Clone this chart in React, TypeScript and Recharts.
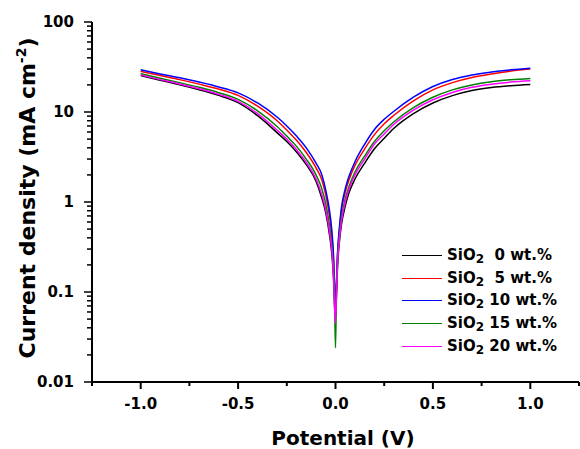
import { LineChart, Line, XAxis, YAxis, Legend } from 'recharts';

// Polarisation scans, |j| in mA cm^-2 against potential in V
const potential = [
  -1.0, -0.9, -0.8, -0.7, -0.6, -0.5, -0.4, -0.3, -0.25, -0.2, -0.15, -0.1, -0.07, -0.05, -0.03, -0.02, -0.01, -0.005,
  0,
  0.005, 0.01, 0.02, 0.03, 0.05, 0.07, 0.1, 0.15, 0.2, 0.25, 0.3, 0.4, 0.5, 0.6, 0.7, 0.8, 0.9, 1.0,
];

const sio2_0 = [
  25.4, 22.5, 20.1, 17.7, 15.3, 12.7, 9.1, 5.9, 4.7, 3.6, 2.6, 1.7, 1.1, 0.76, 0.42, 0.28, 0.14, 0.07,
  0.05,
  0.09, 0.18, 0.36, 0.55, 0.9, 1.28, 1.8, 2.7, 3.9, 5.1, 6.6, 9.6, 12.6, 15.2, 17.3, 18.7, 19.6, 20.2,
];
const sio2_5 = [
  28.3, 25.4, 22.9, 20.4, 18.0, 15.3, 11.6, 8.0, 6.3, 4.85, 3.55, 2.4, 1.75, 1.2, 0.68, 0.45, 0.22, 0.11,
  0.055,
  0.12, 0.24, 0.48, 0.78, 1.28, 1.78, 2.55, 3.9, 5.6, 7.4, 9.2, 13.3, 17.6, 21.2, 24.2, 26.5, 28.5, 30.0,
];
const sio2_10 = [
  29.5, 26.5, 24.0, 21.5, 19.0, 16.3, 12.6, 8.8, 7.0, 5.4, 4.0, 2.7, 2.0, 1.35, 0.78, 0.51, 0.25, 0.12,
  0.06,
  0.13, 0.26, 0.52, 0.85, 1.4, 1.95, 2.8, 4.4, 6.4, 8.3, 10.2, 14.6, 19.2, 23.0, 25.8, 27.8, 29.4, 30.7,
];
const sio2_15 = [
  26.6, 23.7, 21.2, 18.8, 16.4, 13.8, 10.3, 6.9, 5.4, 4.15, 3.0, 2.0, 1.4, 0.95, 0.53, 0.35, 0.17, 0.085,
  0.024,
  0.105, 0.21, 0.42, 0.65, 1.08, 1.5, 2.15, 3.25, 4.7, 6.2, 7.8, 11.2, 14.6, 17.6, 20.0, 21.7, 22.8, 23.6,
];
const sio2_20 = [
  25.8, 22.9, 20.5, 18.1, 15.7, 13.1, 9.6, 6.3, 5.0, 3.8, 2.75, 1.8, 1.2, 0.82, 0.46, 0.31, 0.15, 0.075,
  0.045,
  0.1, 0.2, 0.39, 0.6, 1.0, 1.4, 2.0, 3.0, 4.4, 5.7, 7.3, 10.5, 13.7, 16.5, 18.8, 20.4, 21.5, 22.2,
];

const wtPercent = ['0', '5', '10', '15', '20'];
const seriesKeys = ['s0', 's5', 's10', 's15', 's20'];
const seriesColors = ['#000000', '#ff0000', '#0000ff', '#008000', '#ff00ff'];

const xMajor = [-1.0, -0.5, 0, 0.5, 1.0];
const xMinor = [-1.25, -0.75, -0.25, 0.25, 0.75, 1.25];
const yMajor = [0.01, 0.1, 1, 10, 100];
const yMinorSteps = [2, 3, 4, 5, 6, 7, 8, 9];

const xTicks = [...xMajor, ...xMinor].sort((a, b) => a - b);
const yTicks: number[] = [];
yMajor.forEach((d, i) => {
  yTicks.push(d);
  if (i < yMajor.length - 1) yMinorSteps.forEach((m) => yTicks.push(d * m));
});

const data = potential.map((v, i) => ({
  v,
  s0: sio2_0[i],
  s5: sio2_5[i],
  s10: sio2_10[i],
  s15: sio2_15[i],
  s20: sio2_20[i],
}));

const FONT = "'DejaVu Sans', 'Liberation Sans', Arial, sans-serif";

const isMajorX = (v: number) => xMajor.some((m) => Math.abs(m - v) < 1e-9);
const isMajorY = (v: number) => yMajor.some((m) => Math.abs(m - v) / m < 1e-6);

function BottomTick({ x, y, payload }: any) {
  const major = isMajorX(payload.value);
  return (
    <g>
      <line x1={x} x2={x} y1={y} y2={y + (major ? 7 : 4)} stroke="#000" strokeWidth={2} />
      {major && (
        <text x={x} y={y + 27} textAnchor="middle" fontFamily={FONT} fontWeight={700} fontSize={15} fill="#000">
          {payload.value.toFixed(1)}
        </text>
      )}
    </g>
  );
}

function TopTick({ x, y, payload }: any) {
  return <line x1={x} x2={x} y1={y} y2={y + 3} stroke="#000" strokeWidth={1.5} key={payload.value} />;
}

function LeftTick({ x, y, payload }: any) {
  const major = isMajorY(payload.value);
  return (
    <g>
      <line x1={x - (major ? 8 : 5)} x2={x} y1={y} y2={y} stroke="#000" strokeWidth={1.5} />
      {major && (
        <text x={x - 18} y={y} dy="0.36em" textAnchor="end" fontFamily={FONT} fontWeight={700} fontSize={15} fill="#000">
          {String(payload.value)}
        </text>
      )}
    </g>
  );
}

function YTitle({ viewBox }: any) {
  const cx = 35;
  const cy = viewBox.y + 176;
  return (
    <text
      x={cx}
      y={cy}
      transform={`rotate(-90 ${cx} ${cy})`}
      textAnchor="middle"
      fontFamily={FONT}
      fontWeight={700}
      fontSize={22}
      fill="#000"
    >
      Current density (mA cm
      <tspan dy={-9} fontSize={14}>-2</tspan>
      <tspan dy={9}>)</tspan>
    </text>
  );
}

function XTitle({ viewBox }: any) {
  return (
    <text x={viewBox.x + 251} y={445} textAnchor="middle" fontFamily={FONT} fontWeight={700} fontSize={20} fill="#000">
      Potential (V)
    </text>
  );
}

function SeriesLegend({ payload }: any) {
  const items = [...(payload ?? [])].sort(
    (a: any, b: any) => seriesKeys.indexOf(a.dataKey) - seriesKeys.indexOf(b.dataKey)
  );
  return (
    <div style={{ fontFamily: FONT, fontWeight: 700, fontSize: 15, color: '#000' }}>
      {items.map((item: any) => {
        const i = seriesKeys.indexOf(item.dataKey);
        const wt = wtPercent[i];
        return (
          <div key={item.dataKey} style={{ display: 'flex', alignItems: 'center', height: 22.7 }}>
            <span style={{ width: 40, height: 0, borderTop: `1px solid ${item.color}`, marginRight: 5 }} />
            <span style={{ whiteSpace: 'pre', lineHeight: '18px' }}>
              SiO
              <span style={{ fontSize: 12, position: 'relative', top: 3 }}>2</span>
              {wt.length === 1 ? '  ' : ' '}
              {wt} wt.%
            </span>
          </div>
        );
      })}
    </div>
  );
}

export default function App() {
  return (
    <div style={{ position: 'absolute', left: 0, top: 0, width: 580, height: 449, background: '#fff' }}>
      <LineChart width={580} height={449} data={data} margin={{ top: 22, right: 1, bottom: 0, left: 0 }}>
        <XAxis
          dataKey="v"
          type="number"
          domain={[-1.25, 1.25]}
          allowDataOverflow
          ticks={xTicks}
          interval={0}
          tickSize={0}
          tickMargin={0}
          tickLine={false}
          tick={<BottomTick />}
          height={67}
          axisLine={{ stroke: '#000', strokeWidth: 2 }}
          label={<XTitle />}
        />
        <XAxis
          xAxisId="top"
          orientation="top"
          dataKey="v"
          type="number"
          domain={[-1.25, 1.25]}
          allowDataOverflow
          ticks={xTicks}
          interval={0}
          tickSize={0}
          tickMargin={0}
          tickLine={false}
          tick={<TopTick />}
          height={0}
          axisLine={{ stroke: '#000', strokeWidth: 2 }}
        />
        <YAxis
          type="number"
          scale="log"
          domain={[0.01, 100]}
          allowDataOverflow
          ticks={yTicks}
          interval={0}
          tickSize={0}
          tickMargin={0}
          tickLine={false}
          tick={<LeftTick />}
          width={92}
          axisLine={{ stroke: '#000', strokeWidth: 2 }}
          label={<YTitle />}
        />
        <YAxis
          yAxisId="right"
          orientation="right"
          type="number"
          domain={[0, 1]}
          allowDataOverflow
          tick={false}
          tickLine={false}
          width={0}
          axisLine={{ stroke: '#000', strokeWidth: 2 }}
        />
        <Legend
          layout="vertical"
          align="center"
          verticalAlign="middle"
          content={<SeriesLegend />}
          wrapperStyle={{ left: 402, top: 244, width: 170 }}
        />
        {seriesKeys.map((key, i) => (
          <Line
            key={key}
            dataKey={key}
            name={`SiO2 ${wtPercent[i]} wt.%`}
            type="monotone"
            stroke={seriesColors[i]}
            strokeWidth={1.5}
            dot={false}
            isAnimationActive={false}
          />
        ))}
      </LineChart>
    </div>
  );
}
